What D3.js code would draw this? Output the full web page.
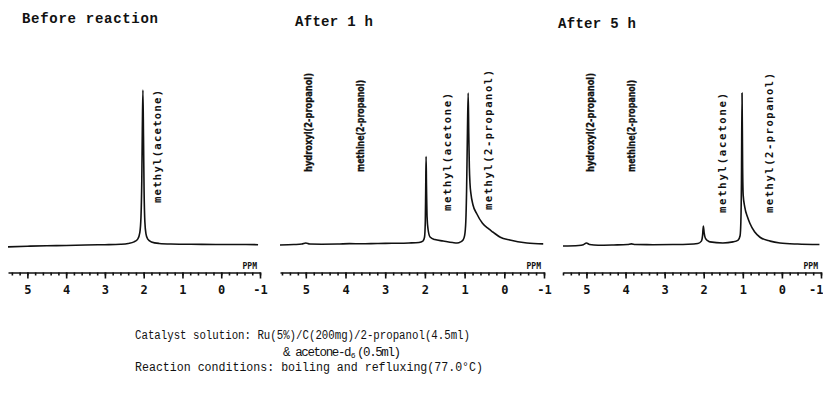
<!DOCTYPE html>
<html>
<head>
<meta charset="utf-8">
<script src="https://cdn.jsdelivr.net/npm/d3@7"></script>
<style>
  body { margin: 0; background: #fff; }
  svg { display: block; }
  .axis path, .axis line { stroke: #111; stroke-width: 1.6; }
  .axis text { font-family: "DejaVu Sans Mono", monospace; font-weight: bold; font-size: 12px; fill: #111; }
</style>
</head>
<body>
<div id="chart"></div>
<script>
// panel titles and axis ranges (ppm, left to right)
const titles = ['Before reaction', 'After 1 h', 'After 5 h'];
const ppmRanges = [[5.5, -1], [5.65, -1], [5.6, -1]];
const majorTicks = [5, 4, 3, 2, 1, 0, -1];
const tickLabels = ['5', '4', '3', '2', '1', '0', '-1'];

// spectra: [ppm, relative intensity]
const spectrumBefore = [
  [5.5, -1.2], [5.0, -0.8], [4.5, -0.5], [4.0, -0.3], [3.5, 0], [3.0, 0.2], [2.6, 0.5],
  [2.4, 1], [2.25, 2], [2.15, 4], [2.1, 8], [2.07, 18], [2.05, 40], [2.035, 75], [2.02, 100],
  [2.005, 70], [1.99, 35], [1.97, 15], [1.94, 7], [1.9, 4], [1.8, 2], [1.6, 1], [1.3, 0.6],
  [1.0, 0.5], [0.5, 0.4], [0, 0.3], [-0.5, 0.3], [-0.95, 0.2]
];
const spectrum1h = [
  [5.65, 0], [5.3, 0.3], [5.1, 0.6], [5.0, 1.3], [4.9, 0.6], [4.6, 0.5], [4.2, 0.6], [3.9, 0.9],
  [3.6, 0.8], [3.2, 1], [2.8, 1.1], [2.4, 1.3], [2.15, 1.6], [2.05, 2.5], [2.01, 5], [1.99, 15],
  [1.98, 35], [1.97, 57], [1.96, 38], [1.945, 18], [1.92, 10], [1.87, 5.2], [1.75, 3.5],
  [1.54, 2.6], [1.3, 1.6], [1.19, 1.3], [1.1, 2], [1.04, 3.2], [1.0, 6], [0.97, 15], [0.95, 35],
  [0.93, 70], [0.91, 98], [0.895, 72], [0.88, 50], [0.865, 40], [0.84, 33], [0.79, 26],
  [0.69, 20], [0.55, 14], [0.4, 10.5], [0.29, 8.4], [0.1, 5], [-0.14, 3.2], [-0.57, 1.3], [-0.98, 0.7]
];
const spectrum5h = [
  [5.6, -0.6], [5.2, -0.3], [5.08, 0.2], [5.0, 1.3], [4.92, 0.3], [4.7, -0.2], [4.3, 0],
  [3.95, 0.3], [3.85, 0.7], [3.75, 0.3], [3.3, 0.2], [2.8, 0.3], [2.4, 0.5], [2.15, 1],
  [2.06, 2.5], [2.03, 6], [2.01, 12.3], [1.99, 8], [1.96, 4.5], [1.9, 2.8], [1.84, 2],
  [1.51, 1.3], [1.25, 2], [1.12, 3.2], [1.07, 6], [1.05, 15], [1.035, 40], [1.02, 98],
  [1.005, 50], [0.99, 32], [0.95, 24.5], [0.88, 18], [0.82, 14], [0.7, 8.5], [0.56, 5],
  [0.3, 2.5], [0.05, 1.3], [-0.4, 0.6], [-0.96, 0.3]
];

// peak assignments (label placed at this ppm)
const labelsBefore = [{ text: 'methyl(acetone)', ppm: 1.66 }];
const labels1h = [
  { text: 'hydroxyl(2-propanol)', ppm: 4.94 },
  { text: 'methine(2-propanol)', ppm: 3.63 },
  { text: 'methyl(acetone)', ppm: 1.44 },
  { text: 'methyl(2-propanol)', ppm: 0.41 }
];
const labels5h = [
  { text: 'hydroxyl(2-propanol)', ppm: 4.91 },
  { text: 'methine(2-propanol)', ppm: 3.84 },
  { text: 'methyl(acetone)', ppm: 1.53 },
  { text: 'methyl(2-propanol)', ppm: 0.31 }
];

const footerLines = [
  'Catalyst solution: Ru(5%)/C(200mg)/2-propanol(4.5ml)',
  '& acetone-d',
  'Reaction conditions: boiling and refluxing(77.0\u00b0C)'
];

// layout
const W = 823, H = 398;
const panelX = [[8, 260], [280, 544], [563, 821]];
const titlePos = [[22, 23, 136], [295, 26, 78], [558, 28, 78]];
const labelSpans = [
  [[203, 90]],
  [[172, 73], [172, 80], [211, 93], [210, 70]],
  [[172, 73], [172, 80], [213, 93], [213, 73]]
];
const baseY = 245, peakY = 90, axisY = 272.5;

const spectra = [spectrumBefore, spectrum1h, spectrum5h];
const labelSets = [labelsBefore, labels1h, labels5h];

const svg = d3.select('#chart').append('svg')
  .attr('width', W)
  .attr('height', H);

svg.append('rect').attr('width', W).attr('height', H).attr('fill', '#fff');

const y = d3.scaleLinear().domain([0, 100]).range([baseY, peakY]);

titles.forEach(function(title, i) {
  const x = d3.scaleLinear().domain(ppmRanges[i]).range(panelX[i]);

  // title
  svg.append('text')
    .attr('x', titlePos[i][0])
    .attr('y', titlePos[i][1])
    .attr('textLength', titlePos[i][2])
    .attr('lengthAdjust', 'spacing')
    .attr('font-family', '"Liberation Mono", monospace')
    .attr('font-weight', 'bold')
    .attr('font-size', 14)
    .attr('fill', '#111')
    .text(title);

  // spectrum trace
  const line = d3.line()
    .x(function(d) { return x(d[0]); })
    .y(function(d) { return y(d[1]); })
    .curve(d3.curveMonotoneX);

  svg.append('path')
    .datum(spectra[i])
    .attr('d', line)
    .attr('fill', 'none')
    .attr('stroke', '#111')
    .attr('stroke-width', 1.6)
    .attr('stroke-linejoin', 'round');

  // peak labels, vertical, reading bottom to top
  labelSets[i].forEach(function(lab, j) {
    const span = labelSpans[i][j];
    const want = span[0] - span[1];
    const t = svg.append('text')
      .attr('transform', 'translate(' + x(lab.ppm) + ',' + span[0] + ') rotate(-90)')
      .attr('dy', '0.35em')
      .attr('font-family', '"DejaVu Sans Mono", monospace')
      .attr('font-weight', 'bold')
      .attr('font-size', 10.5)
      .attr('fill', '#111')
      .text(lab.text);
    const natural = t.node().getComputedTextLength();
    if (natural > want) {
      // the tighter labels are set in a narrower face
      t.attr('font-family', '"DejaVu Sans Condensed", "DejaVu Sans", sans-serif')
        .attr('stroke', '#111')
        .attr('stroke-width', 0.3);
    }
    t.attr('textLength', want)
      .attr('lengthAdjust', t.node().getComputedTextLength() > want ? 'spacingAndGlyphs' : 'spacing');
  });

  // ppm axis: minor ticks every 0.2, major at integers
  const minorTicks = d3.range(-1, ppmRanges[i][0] + 0.001, 0.2);
  svg.append('g')
    .attr('class', 'axis')
    .attr('transform', 'translate(0,' + axisY + ')')
    .call(d3.axisBottom(x).tickValues(minorTicks).tickSize(3).tickSizeOuter(0).tickFormat(''))
    .call(function(g) { g.selectAll('.tick line').attr('stroke-width', 1.2); });

  svg.append('g')
    .attr('class', 'axis')
    .attr('transform', 'translate(0,' + axisY + ')')
    .call(d3.axisBottom(x).tickValues(majorTicks).tickSize(6).tickSizeOuter(0).tickPadding(7)
      .tickFormat(function(d, k) { return tickLabels[k]; }))
    .call(function(g) {
      g.select('.domain').remove();
      // keep the last label of the right panel inside the page
      if (i === 2) {
        g.selectAll('.tick text').filter(function(d) { return d === -1; })
          .attr('text-anchor', 'end').attr('x', 2);
      }
    });

  svg.append('text')
    .attr('x', panelX[i][1] - 3)
    .attr('y', axisY - 4)
    .attr('text-anchor', 'end')
    .attr('font-family', '"DejaVu Sans Mono", monospace')
    .attr('font-weight', 'bold')
    .attr('font-size', 8)
    .attr('fill', '#111')
    .text('PPM');
});

// footer notes
const foot = svg.append('g')
  .attr('font-family', '"Liberation Mono", monospace')
  .attr('font-size', 12.5)
  .attr('fill', '#111');

foot.append('text').attr('x', 135).attr('y', 339)
  .attr('textLength', 335).attr('lengthAdjust', 'spacingAndGlyphs')
  .text(footerLines[0]);

const l2 = foot.append('text').attr('x', 283).attr('y', 356)
  .attr('letter-spacing', -1.4);
l2.append('tspan').text(footerLines[1]);
l2.append('tspan').attr('font-size', 8).attr('dx', 0.5).attr('dy', 2).attr('letter-spacing', 0).text('6');
l2.append('tspan').attr('dx', 1.5).attr('dy', -2).text('(0.5ml)');

foot.append('text').attr('x', 135).attr('y', 371)
  .attr('textLength', 348).attr('lengthAdjust', 'spacingAndGlyphs')
  .text(footerLines[2]);
</script>
</body>
</html>
